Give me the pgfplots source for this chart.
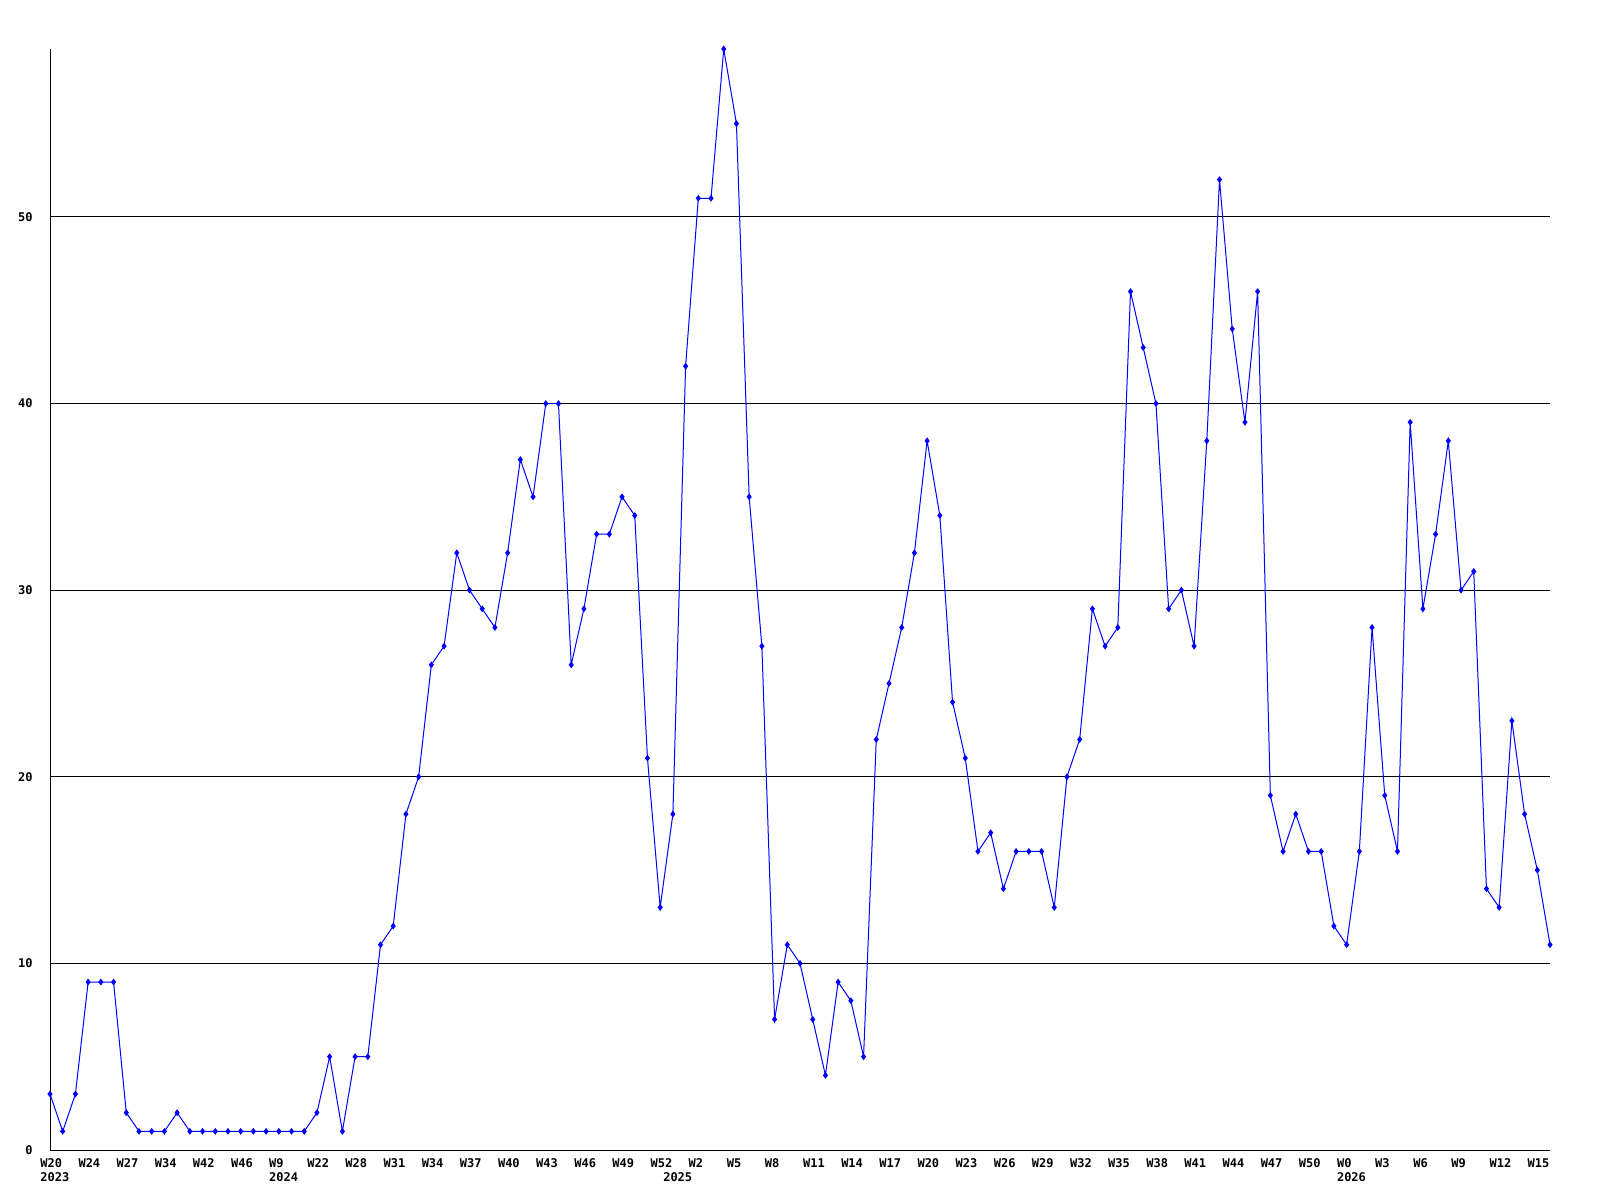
\documentclass[border=0pt]{standalone}
\usepackage{fontspec}
\setmonofont{DejaVu Sans Mono}
\usepackage{pgfplots}
\pgfplotsset{compat=1.18}
\tikzset{year/.style={anchor=north west, inner sep=0pt, xshift=-5pt, yshift=-11pt, font=\fontsize{6}{7}\selectfont\ttfamily\bfseries}}
\begin{document}
\begin{tikzpicture}
\useasboundingbox (0,0) rectangle (800pt,600pt);
\begin{axis}[
  at={(25pt,25pt)}, anchor=south west,
  scale only axis, width=750pt, height=550.5pt,
  xmin=0, xmax=118, ymin=0, ymax=59,
  axis lines=left, axis line style={-, black, line width=0.5pt},
  clip=false,
  major tick length=0pt,
  /pgf/number format/assume math mode=true,
  ytick={0,10,20,30,40,50},
  ymajorgrids, grid style={black, line width=0.5pt},
  xtick={0,3,...,117},
  xticklabels={W20,W24,W27,W34,W42,W46,W9,W22,W28,W31,W34,W37,W40,W43,W46,W49,W52,W2,W5,W8,W11,W14,W17,W20,W23,W26,W29,W32,W35,W38,W41,W44,W47,W50,W0,W3,W6,W9,W12,W15},
  ticklabel style={font=\fontsize{6}{7}\selectfont\ttfamily\bfseries, inner sep=0pt},
  xticklabel style={anchor=north west, xshift=-5pt, yshift=-4pt},
  yticklabel style={anchor=east, xshift=-8.5pt},
]
\addplot[blue, line width=0.5pt, mark=diamond*, mark size=1.3pt, mark options={blue}] coordinates {
(0,3)(1,1)(2,3)(3,9)(4,9)(5,9)(6,2)(7,1)(8,1)(9,1)(10,2)(11,1)(12,1)(13,1)(14,1)(15,1)(16,1)(17,1)(18,1)(19,1)
(20,1)(21,2)(22,5)(23,1)(24,5)(25,5)(26,11)(27,12)(28,18)(29,20)(30,26)(31,27)(32,32)(33,30)(34,29)(35,28)(36,32)(37,37)(38,35)(39,40)
(40,40)(41,26)(42,29)(43,33)(44,33)(45,35)(46,34)(47,21)(48,13)(49,18)(50,42)(51,51)(52,51)(53,59)(54,55)(55,35)(56,27)(57,7)(58,11)(59,10)
(60,7)(61,4)(62,9)(63,8)(64,5)(65,22)(66,25)(67,28)(68,32)(69,38)(70,34)(71,24)(72,21)(73,16)(74,17)(75,14)(76,16)(77,16)(78,16)(79,13)
(80,20)(81,22)(82,29)(83,27)(84,28)(85,46)(86,43)(87,40)(88,29)(89,30)(90,27)(91,38)(92,52)(93,44)(94,39)(95,46)(96,19)(97,16)(98,18)(99,16)
(100,16)(101,12)(102,11)(103,16)(104,28)(105,19)(106,16)(107,39)(108,29)(109,33)(110,38)(111,30)(112,31)(113,14)(114,13)(115,23)(116,18)(117,15)(118,11)
};
\node[year] at (axis cs:0,0) {2023};
\node[year] at (axis cs:18,0) {2024};
\node[year] at (axis cs:49,0) {2025};
\node[year] at (axis cs:102,0) {2026};
\end{axis}
\end{tikzpicture}
\end{document}
